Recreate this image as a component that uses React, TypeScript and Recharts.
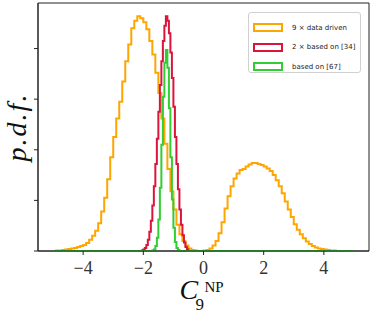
import { LineChart, Line, XAxis, YAxis, ReferenceArea, Legend } from 'recharts';

// histogram heights (arbitrary p.d.f. units)
const orangeStart = -5;
const orangeWidth = 0.1;
const orangeValues = [
  0.0, 0.01, 0.01, 0.02, 0.03, 0.04, 0.05, 0.06, 0.08, 0.1,
  0.12, 0.16, 0.22, 0.3, 0.4, 0.55, 0.78, 1.05, 1.42, 1.85,
  2.25, 2.62, 2.95, 3.35, 3.75, 4.08, 4.4, 4.55, 4.64, 4.6,
  4.52, 4.38, 4.15, 3.88, 3.52, 3.12, 2.62, 2.12, 1.62, 1.18,
  0.82, 0.52, 0.33, 0.2, 0.11, 0.05, 0.02, 0.01, 0.0, 0.0,
  0.01, 0.02, 0.05, 0.11, 0.2, 0.35, 0.57, 0.84, 1.08, 1.28,
  1.43, 1.53, 1.6, 1.62, 1.67, 1.71, 1.74, 1.74, 1.72, 1.7,
  1.67, 1.63, 1.58, 1.5, 1.4, 1.28, 1.14, 0.98, 0.82, 0.67,
  0.53, 0.42, 0.33, 0.25, 0.19, 0.14, 0.1, 0.07, 0.05, 0.04,
  0.03, 0.02, 0.01, 0.01, 0.0, 0.0, 0.0, 0.0, 0.0, 0.0,
];

const redStart = -2.1;
const redWidth = 0.05;
const redValues = [
  0.0, 0.01, 0.03, 0.06, 0.12, 0.22, 0.38, 0.6, 0.9, 1.28,
  1.72, 2.22, 2.75, 3.28, 3.75, 4.15, 4.45, 4.64, 4.55, 4.3,
  3.92, 3.42, 2.85, 2.25, 1.72, 1.22, 0.82, 0.52, 0.31, 0.17,
  0.08, 0.03,
];

const greenStart = -1.75;
const greenWidth = 0.05;
const greenValues = [
  0.0, 0.01, 0.03, 0.1, 0.26, 0.62, 1.25, 2.1, 3.05, 3.72,
  3.97, 3.62, 2.82, 1.85, 1.02, 0.46, 0.18, 0.06, 0.02, 0.0, 0.0,
];

const xTicks = [-4, -2, 0, 2, 4];
const yTicks = [0, 1, 2, 3, 4];
const xRange = [-5, 5];

const legendLabels = ['9 \u00d7 data driven', '2 \u00d7 based on [34]', 'based on [67]'];
const colors = ['#FFA500', '#DC143C', '#32CD32'];

function toSteps(start: number, width: number, values: number[]) {
  const pts = [{ x: xRange[0], y: 0 }];
  values.forEach((v, i) => pts.push({ x: +(start + i * width).toFixed(3), y: v }));
  pts.push({ x: +(start + values.length * width).toFixed(3), y: 0 });
  pts.push({ x: xRange[1], y: 0 });
  return pts;
}

const series = [
  toSteps(orangeStart, orangeWidth, orangeValues),
  toSteps(redStart, redWidth, redValues),
  toSteps(greenStart, greenWidth, greenValues),
];

const serif = '"Liberation Serif", "DejaVu Serif", serif';

function XTick(props: any) {
  const { x, y, payload } = props;
  return (
    <text x={x} y={y + 13} textAnchor="middle" fontFamily={serif} fontSize={18} fill="#333">
      {String(payload.value).replace('-', '\u2212')}
    </text>
  );
}

function XLabel(props: any) {
  const vb = props.viewBox || { x: 38, y: 251, width: 331 };
  const cx = vb.x + vb.width / 2;
  return (
    <g fill="#111" fontFamily={serif}>
      <text x={cx - 24} y={vb.y + 48} fontSize={28} fontStyle="italic">C</text>
      <text x={cx - 8} y={vb.y + 59} fontSize={17}>9</text>
      <text x={cx + 1} y={vb.y + 41} fontSize={15}>NP</text>
    </g>
  );
}

function YLabel(props: any) {
  const vb = props.viewBox || { x: 0, y: 3, width: 38, height: 248 };
  const cy = vb.y + vb.height / 2;
  return (
    <text
      x={26}
      y={cy}
      transform={`rotate(-90, 26, ${cy})`}
      textAnchor="middle"
      fontFamily={serif}
      fontStyle="italic"
      fontSize={28}
      letterSpacing={2}
      fill="#111"
    >
      p.d.f.
    </text>
  );
}

function LegendBox() {
  return (
    <div
      style={{
        width: 113,
        height: 61,
        border: '1px solid #d0d0d0',
        borderRadius: 3,
        background: 'rgba(255,255,255,0.85)',
        boxSizing: 'border-box',
        padding: '5px 0 0 4px',
        fontFamily: '"DejaVu Sans", sans-serif',
        fontSize: 7,
        color: '#222',
      }}
    >
      {legendLabels.map((label, i) => (
        <div key={label} style={{ display: 'flex', alignItems: 'center', height: 19.5 }}>
          <span
            style={{
              display: 'inline-block',
              width: 30,
              height: 9,
              border: `2px solid ${colors[i]}`,
              boxSizing: 'border-box',
              marginRight: 9,
            }}
          />
          <span>{label}</span>
        </div>
      ))}
    </div>
  );
}

export default function App() {
  return (
    <div style={{ position: 'absolute', left: 0, top: 0, width: 374, height: 314, background: '#fff', fontFamily: serif }}>
      <LineChart width={374} height={314} margin={{ top: 3, right: 5, bottom: 0, left: 0 }}>
        <ReferenceArea x1={-5.5} x2={5.5} y1={0} y2={4.9} fill="none" stroke="#222" strokeWidth={1} />
        <XAxis
          type="number"
          dataKey="x"
          domain={[-5.5, 5.5]}
          ticks={xTicks}
          allowDataOverflow
          height={63}
          tickSize={4}
          tickMargin={6}
          stroke="#222"
          tick={<XTick />}
          label={<XLabel />}
        />
        <YAxis
          type="number"
          dataKey="y"
          domain={[0, 4.9]}
          ticks={yTicks}
          allowDataOverflow
          width={38}
          tickSize={4}
          stroke="#222"
          tickFormatter={() => ''}
          label={<YLabel />}
        />
        <Legend
          layout="vertical"
          align="center"
          verticalAlign="middle"
          wrapperStyle={{ left: 248, top: 12, width: 113, height: 61 }}
          content={() => <LegendBox />}
        />
        {series.map((data, i) => (
          <Line
            key={i}
            data={data}
            dataKey="y"
            type="stepAfter"
            stroke={colors[i]}
            strokeWidth={2}
            dot={false}
            activeDot={false}
            isAnimationActive={false}
            legendType="none"
          />
        ))}
      </LineChart>
    </div>
  );
}
